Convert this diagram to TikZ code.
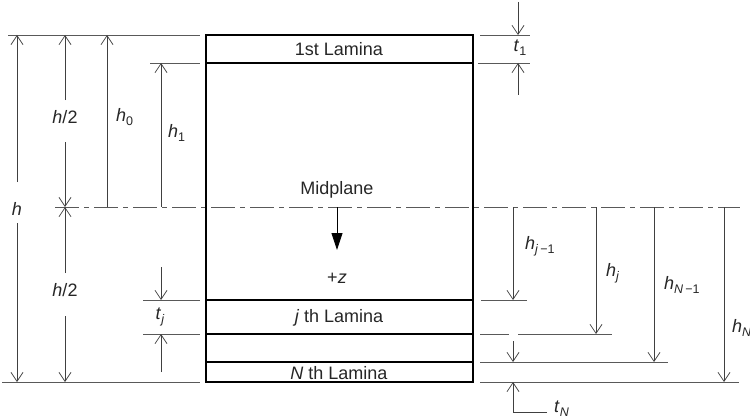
\documentclass[tikz,border=0pt]{standalone}
\usepackage{fontspec}
\setmainfont{Liberation Sans}
\usetikzlibrary{arrows.meta}

\newcommand\lsub[1]{\raisebox{-0.45ex}{\fontsize{12.5}{12.5}\selectfont #1}}

\begin{document}
\begin{tikzpicture}[x=1pt, y=-1pt,
  lamina/.style={black, line width=1.4pt},
  extline/.style={black!65, line width=0.75pt},
  dim/.style={black!75, line width=0.75pt, -{Straight Barb[length=9pt,width=12pt]}},
  zarrow/.style={black, line width=0.9pt, -{Triangle[length=17pt,width=11pt]}},
  midline/.style={black!65, line width=0.75pt, dash pattern=on 24pt off 5pt on 5pt off 5pt},
  lbl/.style={font=\fontsize{18}{20}\selectfont, text=black!85, inner sep=1pt}]

  \useasboundingbox (0,0) rectangle (750,420);

  % midplane (dash-dot) and extension lines
  \draw[midline] (55,207) -- (740,207);
  \draw[extline] (8,35) -- (200,35);
  \draw[extline] (150,63) -- (200,63);
  \draw[extline] (143,300) -- (200,300);
  \draw[extline] (143,334) -- (200,334);
  \draw[extline] (2,382) -- (200,382);
  \draw[extline] (480,35) -- (530,35);
  \draw[extline] (478,63) -- (530,63);
  \draw[extline] (481,300) -- (527,300);
  \draw[extline] (480,334) -- (509,334);  \draw[extline] (518,334) -- (612,334);
  \draw[extline] (480,362) -- (668,362);
  \draw[extline] (480,382) -- (739,382);

  % laminate stack
  \draw[lamina] (206,35) rectangle (473,382);
  \foreach \y in {63,300,334,362}
    \draw[lamina] (206,\y) -- (473,\y);
  \node[lbl] (first) at (339,49) {1st Lamina};
  \node[lbl] (mid)   at (337,190) {Midplane};
  \node[lbl] (jth)   at (339,318) {\textit{j} th Lamina};
  \node[lbl] (Nth)   at (339,373) {\textit{N} th Lamina};

  % positive z direction
  \draw[zarrow] (337,207) -- (337,250);
  \node[lbl] (zlab) at (337,278) {+\textit{z}};

  % left dimensions: h, h/2, h0, h1
  \node[lbl] (hlab) at (17,209) {\textit{h}};
  \draw[dim] (17,182) -- (17,35);
  \draw[dim] (17,223) -- (17,382);
  \node[lbl] (halfup) at (65,117) {\textit{h}/2};
  \draw[dim] (65,100) -- (65,35);
  \draw[dim] (65,142) -- (65,207);
  \node[lbl] (halfdn) at (65,290) {\textit{h}/2};
  \draw[dim] (65,273) -- (65,207);
  \draw[dim] (65,316) -- (65,382);
  \draw[dim] (107,207) -- (107,35);
  \node[lbl, anchor=west] (hzero) at (115,117) {\textit{h}\lsub{0}};
  \draw[dim] (161,207) -- (161,63);
  \node[lbl, anchor=west] (hone) at (167,133) {\textit{h}\lsub{1}};

  % thickness of j-th lamina
  \draw[dim] (161,267) -- (161,300);
  \draw[dim] (161,372) -- (161,334);
  \node[lbl] (tj) at (160,317) {\textit{t}\lsub{\textit{j}}};

  % thickness of 1st lamina
  \draw[dim] (518,2) -- (518,35);
  \draw[dim] (518,95) -- (518,63);
  \node[lbl] (tone) at (520,48) {\textit{t}\lsub{1}};

  % right dimensions from the midplane
  \draw[dim] (513,207) -- (513,300);
  \node[lbl, anchor=west] (hjm) at (524,246) {\textit{h}\lsub{\textit{j}\,−1}};
  \draw[dim] (596,207) -- (596,334);
  \node[lbl, anchor=west] (hj) at (605,273) {\textit{h}\lsub{\textit{j}}};
  \draw[dim] (654,207) -- (654,362);
  \node[lbl, anchor=west] (hNm) at (663,285) {\textit{h}\lsub{\textit{N}\,−1}};
  \draw[dim] (724,207) -- (724,382);
  \node[lbl, anchor=west] (hN) at (731,328) {\textit{h}\lsub{\textit{N}}};

  % thickness of N-th lamina
  \draw[dim] (513,341) -- (513,362);
  \draw[dim] (547,412) -- (513,412) -- (513,382);
  \node[lbl, anchor=west] (tN) at (553,409) {\textit{t}\lsub{\textit{N}}};
\end{tikzpicture}
\end{document}
